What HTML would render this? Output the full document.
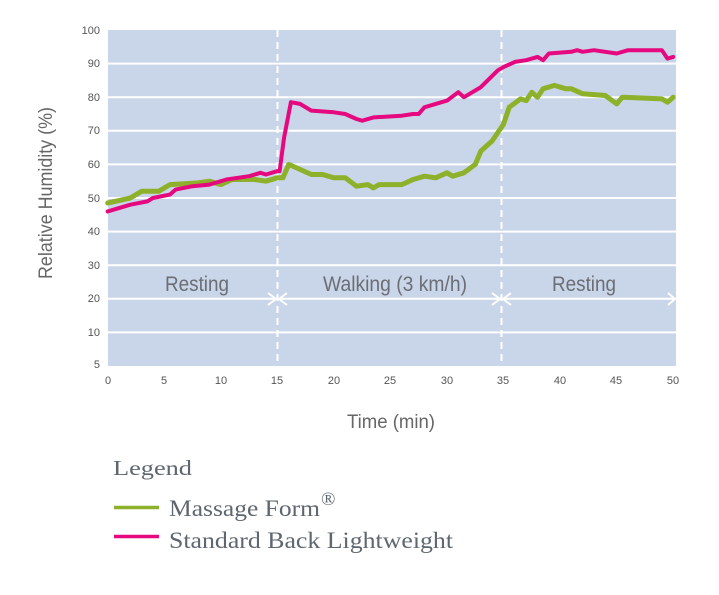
<!DOCTYPE html>
<html><head><meta charset="utf-8"><style>
html,body{margin:0;padding:0;background:#fff;width:719px;height:595px;overflow:hidden}
svg text{font-family:"Liberation Sans",sans-serif}
</style></head><body>
<svg id="s" width="719" height="595" viewBox="0 0 719 595" xmlns="http://www.w3.org/2000/svg">
<rect x="108" y="30" width="568" height="336" fill="#c9d5e8"/>
<g stroke="#fff" stroke-width="2">
<line x1="108" x2="676" y1="63.6" y2="63.6"/><line x1="108" x2="676" y1="97.2" y2="97.2"/>
<line x1="108" x2="676" y1="130.8" y2="130.8"/><line x1="108" x2="676" y1="164.4" y2="164.4"/>
<line x1="108" x2="676" y1="198" y2="198"/><line x1="108" x2="676" y1="231.6" y2="231.6"/>
<line x1="108" x2="676" y1="265.2" y2="265.2"/><line x1="108" x2="676" y1="298.8" y2="298.8"/>
<line x1="108" x2="676" y1="332.4" y2="332.4"/>
</g>
<g stroke="#fff" stroke-width="2" stroke-dasharray="7,5">
<line x1="277.5" x2="277.5" y1="30" y2="366"/><line x1="501.5" x2="501.5" y1="30" y2="366"/>
</g>
<g stroke="#fff" stroke-width="2" fill="none">
<path d="M268 293 L276 299 L268 305 M287 293 L279 299 L287 305"/>
<path d="M492 293 L500 299 L492 305 M511 293 L503 299 L511 305"/>
<path d="M668 293 L675 299 L668 305"/>
</g>
<g fill="#6b6e74" font-size="21" text-anchor="middle">
<text x="197" y="291" textLength="64" lengthAdjust="spacingAndGlyphs">Resting</text>
<text x="395" y="291" textLength="144" lengthAdjust="spacingAndGlyphs">Walking (3 km/h)</text>
<text x="584" y="291" textLength="64" lengthAdjust="spacingAndGlyphs">Resting</text>
</g>
<g fill="#555" font-size="11" text-anchor="end">
<text x="100" y="34">100</text><text x="100" y="67">90</text><text x="100" y="101">80</text>
<text x="100" y="134">70</text><text x="100" y="168">60</text><text x="100" y="202">50</text>
<text x="100" y="235">40</text><text x="100" y="269">30</text><text x="100" y="302">20</text>
<text x="100" y="336">10</text><text x="100" y="368">5</text>
</g>
<g fill="#555" font-size="11" text-anchor="middle">
<text x="108" y="384">0</text><text x="164" y="384">5</text><text x="221" y="384">10</text>
<text x="277" y="384">15</text><text x="334" y="384">20</text><text x="390" y="384">25</text>
<text x="447" y="384">30</text><text x="503" y="384">35</text><text x="560" y="384">40</text>
<text x="616" y="384">45</text><text x="673" y="384">50</text>
</g>
<text x="391" y="428" fill="#666" font-size="19" text-anchor="middle" textLength="88" lengthAdjust="spacingAndGlyphs">Time (min)</text>
<text transform="translate(52,193) rotate(-90)" fill="#666" font-size="19" text-anchor="middle" textLength="172" lengthAdjust="spacingAndGlyphs">Relative Humidity (%)</text>
<polyline id="g" fill="none" stroke="#8db12a" stroke-width="5" stroke-linejoin="round" stroke-linecap="round"/>
<polyline id="p" fill="none" stroke="#e5087e" stroke-width="4" stroke-linejoin="round" stroke-linecap="round"/>
<g fill="#5e6670">
<text x="113" y="475" font-size="21" style="font-family:'Liberation Serif',serif" textLength="79" lengthAdjust="spacingAndGlyphs">Legend</text>
<line x1="114" x2="159" y1="507.5" y2="507.5" stroke="#8db12a" stroke-width="3.5"/>
<line x1="114" x2="159" y1="536.5" y2="536.5" stroke="#e5087e" stroke-width="3.5"/>
<text x="169" y="516" font-size="23" style="font-family:'Liberation Serif',serif" textLength="151" lengthAdjust="spacingAndGlyphs">Massage Form</text>
<text x="321" y="505" font-size="19" style="font-family:'Liberation Serif',serif">®</text>
<text x="169" y="548" font-size="23" style="font-family:'Liberation Serif',serif" textLength="284" lengthAdjust="spacingAndGlyphs">Standard Back Lightweight</text>
</g>
</svg>
<script>
function X(t){return 107.7+t*11.31}function Y(v){return 366-v*3.36}
function pts(a){var s=[];for(var i=0;i<a.length;i+=2)s.push(X(a[i]).toFixed(1)+","+Y(a[i+1]).toFixed(1));return s.join(" ")}
var g=[0,48.5,2,50,3,52,4.5,52,5.5,54,8,54.5,9,55,10,54,11,55.5,13,55.5,14,55,15,56,15.5,56,16,60,17,58.5,18,57,19,57,20,56,21,56,22,53.5,23,54,23.5,53,24,54,26,54,27,55.5,28,56.5,29,56,30,57.5,30.5,56.5,31.5,57.5,32.5,60,33,64,34,67,35,72,35.5,77,36.5,79.5,37,79,37.5,81.5,38,80,38.5,82.5,39.5,83.5,40.5,82.5,41,82.5,42,81,44,80.5,45,78,45.5,80,49,79.5,49.5,78.5,50,80];
var p=[0,46,2,48,3.5,49,4,50,5.5,51,6,52.5,7.5,53.5,9,54,10.5,55.5,12.5,56.5,13.5,57.5,14,57,15,58,15.2,58,15.6,68,16.2,78.5,17,78,18,76,20,75.5,21,75,22,73.5,22.5,73,23.5,74,26,74.5,27,75,27.5,75,28,77,30,79,31,81.5,31.5,80,33,83,34.5,88,35,89,36,90.5,37,91,38,92,38.5,91,39,93,41,93.5,41.5,94,42,93.5,43,94,45,93,46,94,49,94,49.5,91.5,50,92];
document.getElementById("g").setAttribute("points",pts(g));
document.getElementById("p").setAttribute("points",pts(p));
</script>
</body></html>
